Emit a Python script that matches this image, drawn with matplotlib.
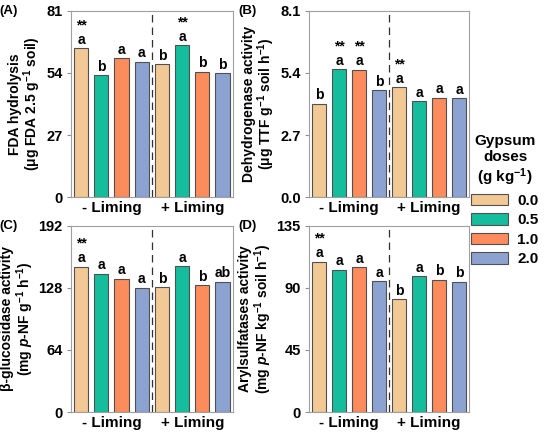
import numpy as np
import matplotlib
matplotlib.use('Agg')
from matplotlib import pyplot as plt
from matplotlib.patches import Patch

plt.rcParams['font.family'] = ['Liberation Sans', 'DejaVu Sans']
plt.rcParams['font.weight'] = 'bold'
plt.rcParams['mathtext.fontset'] = 'custom'
plt.rcParams['mathtext.rm'] = 'Liberation Sans:bold'
plt.rcParams['mathtext.bf'] = 'Liberation Sans:bold'
plt.rcParams['mathtext.it'] = 'Liberation Sans:bold:italic'

# 数据
doses = ['0.0', '0.5', '1.0', '2.0']
groups = ['- Liming', '+ Liming']
colors = ['#F2C894', '#14BE9C', '#FC8C5C', '#8CA2D0']

fda = [64.8, 53.1, 60.5, 58.8, 57.9, 66.1, 54.6, 53.9]
fda_letters = ['a', 'b', 'a', 'a', 'b', 'a', 'b', 'b']
fda_star = [1, 0, 0, 0, 0, 1, 0, 0]

dha = [4.07, 5.56, 5.54, 4.64, 4.78, 4.16, 4.32, 4.30]
dha_letters = ['b', 'a', 'a', 'b', 'a', 'a', 'a', 'a']
dha_star = [0, 1, 1, 0, 1, 0, 0, 0]

glu = [149.9, 142.4, 137.5, 128.2, 128.9, 150.6, 130.6, 134.4]
glu_letters = ['a', 'a', 'a', 'a', 'b', 'a', 'b', 'ab']
glu_star = [1, 0, 0, 0, 0, 0, 0, 0]

ary = [109.1, 103.0, 104.9, 94.8, 81.7, 98.6, 96.0, 94.5]
ary_letters = ['a', 'a', 'a', 'a', 'b', 'a', 'b', 'b']
ary_star = [1, 0, 0, 0, 0, 0, 0, 0]

panels = [
    ('(A)', fda, fda_letters, fda_star, 81, [0, 27, 54, 81], '{:.0f}',
     'FDA hydrolysis\n(μg FDA 2.5 g$^{-1}$ soil)'),
    ('(B)', dha, dha_letters, dha_star, 8.1, [0, 2.7, 5.4, 8.1], '{:.1f}',
     'Dehydrogenase activity\n(μg TTF g$^{-1}$ soil h$^{-1}$)'),
    ('(C)', glu, glu_letters, glu_star, 192, [0, 64, 128, 192], '{:.0f}',
     'β-glucosidase activity\n(mg $p$-NF g$^{-1}$ h$^{-1}$)'),
    ('(D)', ary, ary_letters, ary_star, 135, [0, 45, 90, 135], '{:.0f}',
     'Arylsulfatases activity\n(mg $p$-NF kg$^{-1}$ soil h$^{-1}$)'),
]

boxes = [
    [0.129, 0.548, 0.294, 0.427],
    [0.562, 0.548, 0.291, 0.427],
    [0.129, 0.055, 0.294, 0.427],
    [0.562, 0.055, 0.291, 0.427],
]

fig = plt.figure(figsize=(5.5, 4.36), dpi=100)
x = np.arange(8)

for box, (tag, vals, letters, stars, ymax, ticks, fmt, ylabel) in zip(boxes, panels):
    ax = fig.add_axes(box)
    ax.bar(x, vals, width=0.7, color=colors * 2, edgecolor='#505050', linewidth=0.8)
    ax.axvline(3.5, color='#303030', linestyle=(0, (6, 4)), linewidth=0.9)
    ax.set_xlim(-0.5, 7.5)
    ax.set_ylim(0, ymax)
    ax.set_yticks(ticks)
    ax.set_yticklabels([fmt.format(t) for t in ticks], fontsize=10.5, fontweight='bold')
    ax.set_xticks([1.5, 5.5])
    ax.set_xticklabels(groups, fontsize=11, fontweight='bold')
    ax.tick_params(axis='x', length=0, pad=3)
    ax.tick_params(axis='y', length=3, color='#909090', pad=3)
    for s in ax.spines.values():
        s.set_color('#a0a0a0')
        s.set_linewidth(0.8)
    ax.set_ylabel(ylabel, fontsize=10, fontweight='bold', linespacing=1.0, labelpad=2)
    off = ymax * 0.008
    for i, (v, l, st) in enumerate(zip(vals, letters, stars)):
        ax.text(i, v + off, l, ha='center', va='bottom', fontsize=10, fontweight='bold')
        if st:
            ax.text(i, v + ymax * 0.085, '**', ha='center', va='bottom', fontsize=10, fontweight='bold')
    ax.text(-0.44, 1.0, tag, transform=ax.transAxes, ha='left', va='center',
            fontsize=9.5, fontweight='bold')

handles = [Patch(facecolor=c, edgecolor='#505050', linewidth=0.8) for c in colors]
leg = fig.legend(handles, doses, title='Gypsum\ndoses\n(g kg$^{-1}$)', frameon=False,
                 loc='center', bbox_to_anchor=(505 / 550, 1 - 200 / 436),
                 handlelength=2.4, handleheight=0.8, labelspacing=0.35, handletextpad=0.6,
                 prop=dict(weight='bold', size=11),
                 title_fontproperties=dict(weight='bold', size=11))
leg.get_title().set_multialignment('center')

fig.savefig('out.png', dpi=100)
